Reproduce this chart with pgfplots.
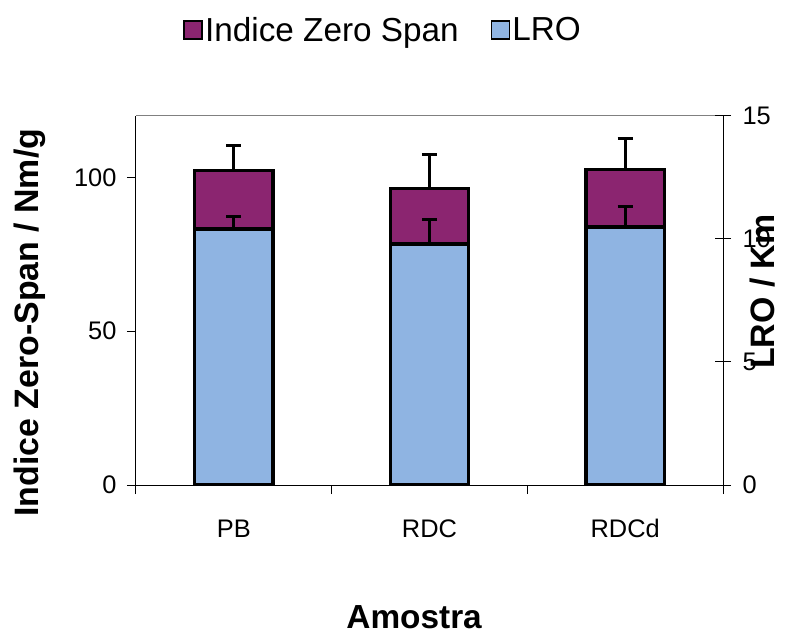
\documentclass[border=0pt]{standalone}
\usepackage{fontspec}
\setmainfont{Liberation Sans}
\usepackage{pgfplots}
\pgfplotsset{compat=1.18}
\definecolor{zspurple}{RGB}{139,37,112}
\definecolor{lroblue}{RGB}{143,180,226}
\begin{document}
\begin{tikzpicture}
\useasboundingbox (-136bp,-152bp) rectangle (649bp,485bp);
\begin{axis}[
  scale only axis, width=587bp, height=369bp,
  xmin=-0.5, xmax=2.5, ymin=0, ymax=120,
  axis x line*=bottom, axis y line*=left,
  axis line style={black, line width=1bp, -},
  ybar, bar width=0.4,
  xtick={-0.5,0.5,1.5,2.5},
  xticklabels={PB,RDC,RDCd},
  x tick label as interval,
  ytick={0,50,100},
  tick align=outside,
  major tick length=9bp,
  tick style={black, line width=1bp},
  /pgf/number format/assume math mode=true,
  ticklabel style={font=\fontsize{25.5}{30}\selectfont},
  xticklabel style={yshift=-22bp},
  yticklabel style={xshift=-7bp},
  ylabel={\textbf{Indice Zero-Span / Nm/g}},
  ylabel style={at={(axis description cs:-0.181,0.44)}, anchor=center, font=\fontsize{34}{40}\selectfont},
  xlabel={\textbf{Amostra}},
  xlabel style={at={(axis description cs:0.474,-0.358)}, anchor=center, font=\fontsize{33.5}{40}\selectfont},
  legend columns=2,
  legend style={at={(axis description cs:0.421,1.233)}, anchor=center, draw=none, fill=none,
    font=\fontsize{33.4}{40}\selectfont,
    /tikz/every even column/.append style={column sep=30bp},
    /tikz/every node/.append style={inner xsep=2bp}},
  legend image code/.code={\draw[#1, draw=black, line width=1.8bp] (0bp,-9bp) rectangle (18bp,9bp);},
]
\addlegendimage{fill=zspurple}
\addlegendentry{Indice Zero Span}
\addlegendimage{fill=lroblue}
\addlegendentry{LRO}
\addplot[fill=zspurple, draw=black, line width=3.2bp, bar shift=0pt, forget plot,
  error bars/.cd, y dir=plus, y explicit, error mark=|,
  error bar style={line width=2.8bp, black},
  error mark options={line width=2.8bp, mark size=7.5bp, black}]
  coordinates {(0,102.4) +- (0,8.1) (1,96.3) +- (0,11.2) (2,102.7) +- (0,10.1)};
\draw[gray, line width=1bp] (rel axis cs:0,1) -- (rel axis cs:1,1);
\end{axis}
\begin{axis}[
  scale only axis, width=587bp, height=369bp,
  xmin=-0.5, xmax=2.5, ymin=0, ymax=15,
  axis x line=none, axis y line*=right,
  axis line style={black, line width=1bp, -},
  ybar, bar width=0.4,
  ytick={0,5,10,15},
  tick align=center,
  major tick length=16bp,
  tick style={black, line width=1bp},
  /pgf/number format/assume math mode=true,
  ticklabel style={font=\fontsize{25.5}{30}\selectfont},
  yticklabel style={xshift=8bp},
  ylabel={\textbf{LRO / Km}},
  ylabel style={at={(axis description cs:1.068,0.524)}, anchor=center, font=\fontsize{34}{40}\selectfont},
]
\addplot[fill=lroblue, draw=black, line width=3.2bp, bar shift=0pt,
  error bars/.cd, y dir=plus, y explicit, error mark=|,
  error bar style={line width=2.8bp, black},
  error mark options={line width=2.8bp, mark size=7.5bp, black}]
  coordinates {(0,10.41) +- (0,0.5) (1,9.80) +- (0,1.0) (2,10.49) +- (0,0.82)};
\end{axis}
\end{tikzpicture}
\end{document}
